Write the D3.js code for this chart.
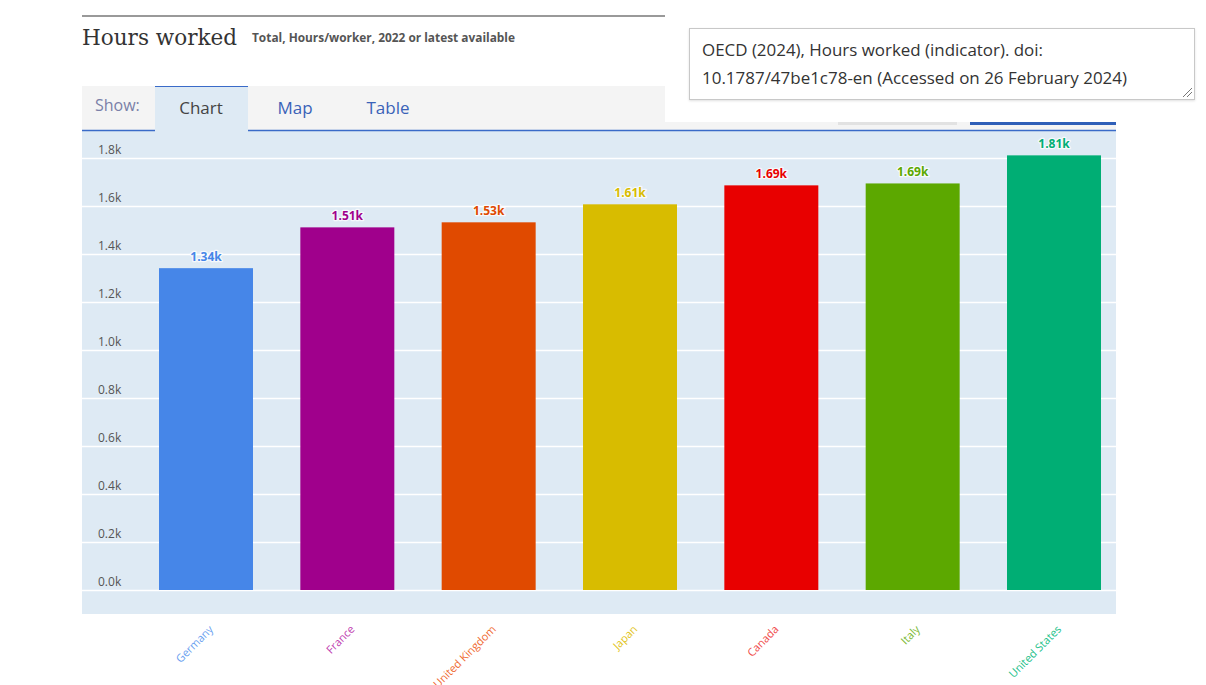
<!DOCTYPE html>
<html>
<head>
<meta charset="utf-8">
<script src="https://cdn.jsdelivr.net/npm/d3@7"></script>
<style>
  html, body { margin: 0; padding: 0; background: #fff; }
  svg { display: block; }
</style>
</head>
<body>
<svg id="chart" width="1206" height="685"></svg>
<script>
// ---- data ----
const countries = ["Germany", "France", "United Kingdom", "Japan", "Canada", "Italy", "United States"];
const hours = [1341, 1511, 1532, 1607, 1686, 1694, 1811];
const valueLabels = ["1.34k", "1.51k", "1.53k", "1.61k", "1.69k", "1.69k", "1.81k"];
const barColors = ["#4686e8", "#a0008c", "#e04a00", "#d8bc00", "#e80000", "#5ca800", "#00ae74"];
const labelColors = ["#6a9ff0", "#c040b0", "#f06a30", "#e2c41a", "#f04848", "#78b830", "#20c088"];
const yTicks = [0, 200, 400, 600, 800, 1000, 1200, 1400, 1600, 1800];
const yTickLabels = ["0.0k", "0.2k", "0.4k", "0.6k", "0.8k", "1.0k", "1.2k", "1.4k", "1.6k", "1.8k"];
const title = "Hours worked";
const subtitle = "Total, Hours/worker, 2022 or latest available";
const tabs = ["Chart", "Map", "Table"];
const citation = ["OECD (2024), Hours worked (indicator). doi:", "10.1787/47be1c78-en (Accessed on 26 February 2024)"];

const svg = d3.select("#chart");
const sans = "'Open Sans', 'Noto Sans', sans-serif";

// ---- header ----
svg.append("line").attr("x1", 82).attr("x2", 665).attr("y1", 16).attr("y2", 16)
  .attr("stroke", "#999").attr("stroke-width", 2);
svg.append("text").attr("x", 82).attr("y", 45).text(title)
  .attr("font-family", "'DejaVu Serif', 'Liberation Serif', serif").attr("font-size", 22)
  .attr("fill", "#333").attr("textLength", 155).attr("lengthAdjust", "spacingAndGlyphs");
svg.append("text").attr("x", 252).attr("y", 42).text(subtitle)
  .attr("font-family", sans).attr("font-size", 12).attr("font-weight", 700)
  .attr("fill", "#555").attr("textLength", 263).attr("lengthAdjust", "spacingAndGlyphs");

// ---- tab bar ----
svg.append("rect").attr("x", 82).attr("y", 86).attr("width", 1034).attr("height", 44).attr("fill", "#f4f4f4");
// white overlay panel behind citation
svg.append("rect").attr("x", 665).attr("y", 0).attr("width", 541).attr("height", 122).attr("fill", "#fff");
// small buttons at right
svg.append("rect").attr("x", 838).attr("y", 122).attr("width", 119).attr("height", 3).attr("fill", "#e2e2e2");
svg.append("rect").attr("x", 970).attr("y", 122).attr("width", 146).attr("height", 3).attr("fill", "#2f5fb8");

svg.append("text").attr("x", 95).attr("y", 111).text("Show:")
  .attr("font-family", sans).attr("font-size", 16).attr("fill", "#7a80a8");
svg.append("rect").attr("x", 155).attr("y", 86).attr("width", 93).attr("height", 45).attr("fill", "#deeaf4");
svg.append("line").attr("x1", 155).attr("x2", 248).attr("y1", 86.5).attr("y2", 86.5).attr("stroke", "#3a6bc8").attr("stroke-width", 1);
const tabX = [201, 295, 388];
tabs.forEach((t, i) => {
  svg.append("text").attr("x", tabX[i]).attr("y", 114).text(t).attr("text-anchor", "middle")
    .attr("font-family", sans).attr("font-size", 17).attr("fill", i === 0 ? "#444" : "#3a62b8");
});

// ---- plot area ----
svg.append("rect").attr("x", 82).attr("y", 130).attr("width", 1034).attr("height", 484).attr("fill", "#deeaf4");
svg.append("line").attr("x1", 82).attr("x2", 155).attr("y1", 130.5).attr("y2", 130.5).attr("stroke", "#3a6bc8").attr("stroke-width", 1.3);
svg.append("line").attr("x1", 248).attr("x2", 1116).attr("y1", 130.5).attr("y2", 130.5).attr("stroke", "#3a6bc8").attr("stroke-width", 1.3);

const y = d3.scaleLinear().domain([0, 1800]).range([590, 158]);
const x = d3.scaleBand().domain(countries).range([135.33, 1124.67]).paddingInner(0.335).paddingOuter(0.1675);

// grid
svg.append("g").selectAll("line").data(yTicks).join("line")
  .attr("x1", 82).attr("x2", 1116)
  .attr("y1", d => y(d) + 0.5).attr("y2", d => y(d) + 0.5)
  .attr("stroke", "#fff").attr("stroke-width", 1.5);
svg.append("g").selectAll("text").data(yTicks).join("text")
  .attr("x", 98).attr("y", d => y(d) - 4)
  .text((d, i) => yTickLabels[i])
  .attr("font-family", sans).attr("font-size", 12).attr("fill", "#555");

// bars
svg.append("g").selectAll("rect").data(countries).join("rect")
  .attr("x", d => x(d)).attr("width", x.bandwidth())
  .attr("y", (d, i) => y(hours[i])).attr("height", (d, i) => y(0) - y(hours[i]))
  .attr("fill", (d, i) => barColors[i]);

// value labels
svg.append("g").selectAll("text").data(countries).join("text")
  .attr("x", d => x(d) + x.bandwidth() / 2)
  .attr("y", (d, i) => y(hours[i]) - 7)
  .attr("text-anchor", "middle")
  .text((d, i) => valueLabels[i])
  .attr("font-family", sans).attr("font-size", 12).attr("font-weight", 700)
  .attr("fill", (d, i) => barColors[i])
  .attr("stroke", "rgba(255,255,255,0.75)").attr("stroke-width", 2.5)
  .attr("paint-order", "stroke").attr("stroke-linejoin", "round");

// x labels
svg.append("g").selectAll("text").data(countries).join("text")
  .attr("transform", d => `translate(${x(d) + x.bandwidth() / 2 + 8},630) rotate(-45)`)
  .attr("text-anchor", "end")
  .text(d => d)
  .attr("font-family", sans).attr("font-size", 11)
  .attr("fill", (d, i) => labelColors[i]);

// ---- citation box ----
svg.append("rect").attr("x", 689.5).attr("y", 28.5).attr("width", 505).attr("height", 71)
  .attr("fill", "#fff").attr("stroke", "#c8c8c8").attr("stroke-width", 1)
  .style("filter", "drop-shadow(0px 1px 1px rgba(0,0,0,0.12))");
const citeLen = [341, 425];
citation.forEach((line, i) => {
  svg.append("text").attr("x", 702).attr("y", 56 + i * 28).text(line)
    .attr("font-family", sans).attr("font-size", 16).attr("fill", "#333")
    .attr("textLength", citeLen[i]).attr("lengthAdjust", "spacingAndGlyphs");
});
// resize grip
svg.append("line").attr("x1", 1183).attr("y1", 97).attr("x2", 1192).attr("y2", 88).attr("stroke", "#777").attr("stroke-width", 1);
svg.append("line").attr("x1", 1187).attr("y1", 97).attr("x2", 1192).attr("y2", 92).attr("stroke", "#777").attr("stroke-width", 1);
</script>
</body>
</html>
